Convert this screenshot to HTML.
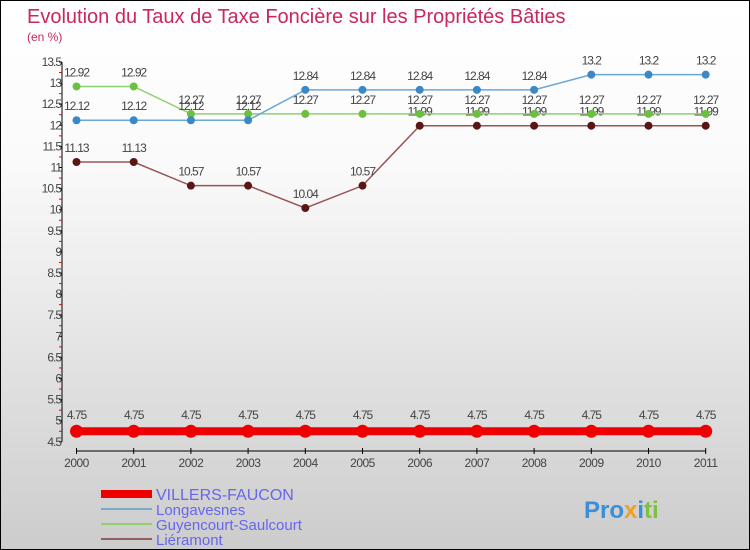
<!DOCTYPE html>
<html><head><meta charset="utf-8"><style>
body{margin:0;}
#c{position:relative;width:750px;height:550px;box-sizing:border-box;border:1px solid #000;background:linear-gradient(#fff,#fafafa 30%,#ccc);font-family:"Liberation Sans",sans-serif;overflow:hidden}
</style></head><body>
<div id="c">
<svg id="s" width="750" height="550" style="position:absolute;left:0;top:0">
<text x="26" y="22" font-size="20" fill="#c8285a">Evolution du Taux de Taxe Foncière sur les Propriétés Bâties</text>
<text x="26" y="40" font-size="12" fill="#c8285a">(en %)</text>
<g id="axes"></g><g id="series"></g>
<g>
<rect x="100" y="489" width="51" height="8" fill="#e00"/>
<text x="155" y="499" font-size="16" fill="#6666ee">VILLERS-FAUCON</text>
<rect x="100" y="507" width="51" height="2" fill="#7aa9cc"/>
<text x="155" y="514" font-size="15" fill="#6666ee">Longavesnes</text>
<rect x="100" y="522" width="51" height="2" fill="#90d070"/>
<text x="155" y="529" font-size="15" fill="#6666ee">Guyencourt-Saulcourt</text>
<rect x="100" y="537" width="51" height="2" fill="#906060"/>
<text x="155" y="544" font-size="15" fill="#6666ee">Liéramont</text>
</g>
<text x="583" y="517" font-size="24" font-weight="bold" fill="#3a8fd8">Pro<tspan fill="#f0a020">x</tspan>i<tspan fill="#80c040">ti</tspan></text>
</svg>
</div>
<script>
const years=[2000,2001,2002,2003,2004,2005,2006,2007,2008,2009,2010,2011];
const villers=[4.75,4.75,4.75,4.75,4.75,4.75,4.75,4.75,4.75,4.75,4.75,4.75];
const longavesnes=[12.12,12.12,12.12,12.12,12.84,12.84,12.84,12.84,12.84,13.2,13.2,13.2];
const guyencourt=[12.92,12.92,12.27,12.27,12.27,12.27,12.27,12.27,12.27,12.27,12.27,12.27];
const lieramont=[11.13,11.13,10.57,10.57,10.04,10.57,11.99,11.99,11.99,11.99,11.99,11.99];
const yTicks=[4.5,5,5.5,6,6.5,7,7.5,8,8.5,9,9.5,10,10.5,11,11.5,12,12.5,13,13.5];
const NS='http://www.w3.org/2000/svg';
const xS=i=>75.5+i*57.2;
const yS=v=>61+(13.5-v)*42.2;
function mk(t,a,p){const e=document.createElementNS(NS,t);for(const k in a)e.setAttribute(k,a[k]);p.appendChild(e);return e;}
const ax=document.getElementById('axes');
let l=mk('line',{x1:61,y1:yS(13.5),x2:61,y2:yS(4.5),stroke:'#000'},ax);


yTicks.forEach((v,i)=>{
 mk('line',{x1:58,x2:61,y1:yS(v),y2:yS(v),stroke:'#000'},ax);
 if(i<yTicks.length-1)mk('line',{x1:58,x2:61,y1:yS(v+0.25),y2:yS(v+0.25),stroke:'#e00'},ax);
 const t=mk('text',{x:60,y:yS(v)+4,'font-size':12,'text-anchor':'end',fill:'#444','letter-spacing':'-1'},ax);
 t.textContent=v;
 
 
});
l=mk('line',{x1:xS(0),y1:450,x2:xS(11),y2:450,stroke:'#000'},ax);


years.forEach((y,i)=>{
 mk('line',{x1:xS(i),x2:xS(i),y1:447,y2:453,stroke:'#000'},ax);
 const t=mk('text',{x:xS(i),y:466,'font-size':12,'text-anchor':'middle',fill:'#444','letter-spacing':'-0.5'},ax);
 t.textContent=y;
 
 
});
const sg=document.getElementById('series');
function series(vals,name,lc,pc,lw,r){
 const g=mk('g',{},sg);
 
 
 mk('polyline',{points:vals.map((v,i)=>xS(i)+','+yS(v)).join(' '),fill:'none',stroke:lc,'stroke-width':lw},g);
 vals.forEach((v,i)=>{
  const c=mk('circle',{cx:xS(i),cy:yS(v),r:r,fill:pc},g);
  
  
  const t=mk('text',{x:xS(i),y:yS(v)-(r+6),'font-size':12,'text-anchor':'middle',fill:'#444','letter-spacing':'-1'},g);
  t.textContent=v;
  
  
 });
}
series(lieramont,'lieramont','#955','#5a1515',1.5,4);
series(guyencourt,'guyencourt','#90d070','#6cc040',1.5,4);
series(longavesnes,'longavesnes','#6aa8d8','#3a88c8',1.5,4);
series(villers,'villers','#e00','#e00',8,6.5);
</script>
</body></html>
